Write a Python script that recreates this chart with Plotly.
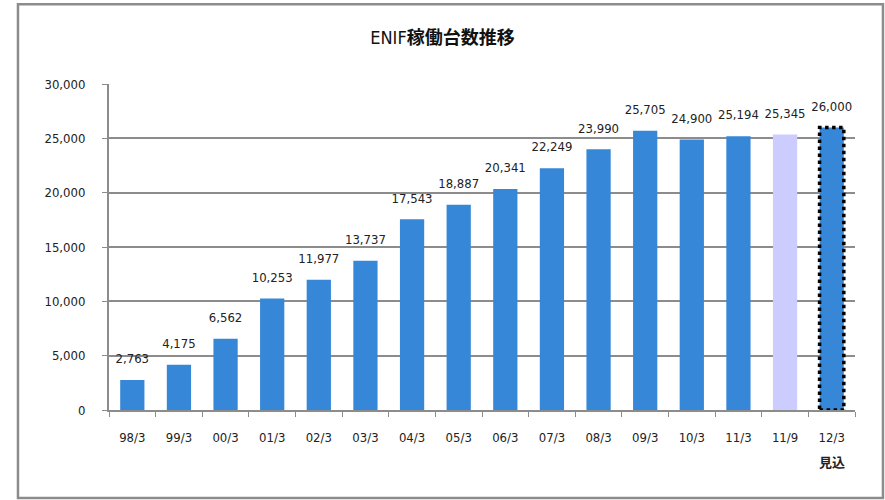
import plotly.graph_objects as go

categories = ["98/3", "99/3", "00/3", "01/3", "02/3", "03/3", "04/3", "05/3",
              "06/3", "07/3", "08/3", "09/3", "10/3", "11/3", "11/9", "12/3"]
values = [2763, 4175, 6562, 10253, 11977, 13737, 17543, 18887,
          20341, 22249, 23990, 25705, 24900, 25194, 25345, 26000]
bar_colors = ["#3787d8"] * 14 + ["#ccccff", "#3787d8"]
tick_text = categories[:-1] + ["12/3"]
forecast_label = "見込"

FONT = "DejaVu Sans Condensed, Liberation Sans Narrow, Liberation Sans, Noto Sans CJK JP, sans-serif"
FS = 13
bargap = 0.48

fig = go.Figure()
fig.add_trace(go.Bar(
    x=categories, y=values,
    marker=dict(color=bar_colors, line=dict(width=0)),
    hoverinfo="x+y",
))
# value labels, lifted above the bars by an invisible marker
fig.add_trace(go.Scatter(
    x=categories, y=values,
    mode="markers+text",
    marker=dict(size=20, color="rgba(0,0,0,0)"),
    text=[f"{v:,}" for v in values],
    textposition="top center",
    textfont=dict(size=FS, color="#222222", family=FONT),
    cliponaxis=False,
    hoverinfo="skip",
))

# dotted outline around the forecast bar
idx = len(categories) - 1
half = (1 - bargap) / 2
fig.add_shape(type="rect", xref="x", yref="y",
              x0=idx - half, x1=idx + half, y0=0, y1=values[idx],
              line=dict(color="black", width=3.5, dash="dot"))

# outer frame
fig.add_shape(type="rect", xref="paper", yref="paper",
              x0=-0.1220, x1=1.0375, y0=-0.270, y1=1.245,
              line=dict(color="#8c8c8c", width=2.5), layer="below")

fig.add_annotation(x=categories[-1], xref="x", y=-0.159, yref="paper",
                   text=f"<b>{forecast_label}</b>", showarrow=False,
                   font=dict(size=FS, color="#222222", family="Noto Sans CJK JP"),
                   yanchor="middle")

fig.update_layout(
    width=885, height=500,
    margin=dict(l=109, r=30, t=84, b=90, autoexpand=False),
    paper_bgcolor="white", plot_bgcolor="white",
    bargap=bargap,
    showlegend=False,
    title=dict(text="ENIF<b>稼働台数推移</b>", x=0.5, xanchor="center",
               y=1 - 38 / 500, yanchor="middle",
               font=dict(size=18, color="#111111", family=FONT)),
    font=dict(family=FONT, size=FS, color="#222222"),
    xaxis=dict(tickvals=categories, ticktext=tick_text, tickson="boundaries",
               range=[-0.5, len(categories) - 0.5],
               ticks="outside", ticklen=5, tickcolor="#8c8c8c",
               showline=True, linecolor="#8c8c8c", linewidth=2,
               showgrid=False, ticklabelstandoff=14, automargin=False,
               tickfont=dict(size=FS, color="#222222", family=FONT)),
    yaxis=dict(range=[0, 30000], dtick=5000, tickformat=",",
               ticks="outside", ticklen=5, tickcolor="#8c8c8c",
               showline=True, linecolor="#8c8c8c", linewidth=2,
               showgrid=True, gridcolor="#8c8c8c", gridwidth=1.5,
               zeroline=False, ticklabelstandoff=14, automargin=False,
               tickfont=dict(size=FS, color="#222222", family=FONT)),
)

fig.write_html("out.html", config={"displayModeBar": False},
               post_script="document.body.style.margin='0';")
